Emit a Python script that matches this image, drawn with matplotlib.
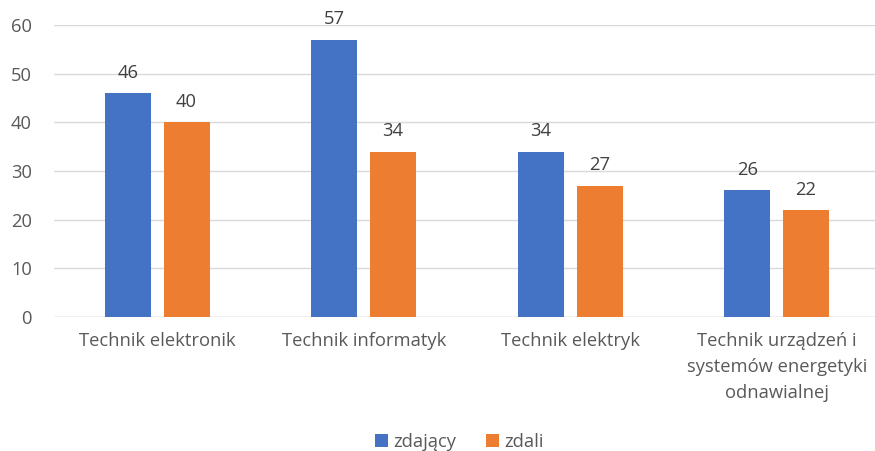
import matplotlib.pyplot as plt
import numpy as np

categories = ['Technik elektronik', 'Technik informatyk', 'Technik elektryk',
              'Technik urządzeń i\nsystemów energetyki\nodnawialnej']
zdajacy = [46, 57, 34, 26]
zdali = [40, 34, 27, 22]

plt.rcParams['font.family'] = ['Open Sans', 'DejaVu Sans']
gray = '#595959'
fs = 13.2

fig = plt.figure(figsize=(8.75, 4.51), dpi=100)
ax = fig.add_axes([54/875, 1-317/451, 1-54/875, 292/451])

x = np.arange(len(categories))
w = 0.223
b1 = ax.bar(x - 0.142, zdajacy, w, color='#4472C4', label='zdający', zorder=3)
b2 = ax.bar(x + 0.142, zdali, w, color='#ED7D31', label='zdali', zorder=3)
for bars in (b1, b2):
    ax.bar_label(bars, padding=8, fontsize=fs, color='#404040')

ax.set_xlim(-0.5, 3.476)
ax.set_ylim(0, 60)
ax.set_yticks(range(0, 61, 10))
ax.yaxis.grid(True, color='#d9d9d9', linewidth=1)
ax.set_axisbelow(True)
for s in ax.spines.values():
    s.set_visible(False)
ax.axhline(0, color='#d9d9d9', linewidth=1, zorder=2)
ax.set_xticks(x)
ax.set_xticklabels(categories, fontsize=fs, color=gray, linespacing=1.55)
ax.tick_params(axis='both', length=0, colors=gray, labelsize=fs)
ax.tick_params(axis='x', pad=11)
ax.tick_params(axis='y', pad=16)

fig.legend(loc='lower center', bbox_to_anchor=(0.525, -0.037), ncol=2, frameon=False,
           fontsize=fs, labelcolor=gray, handlelength=0.7, handleheight=0.7,
           columnspacing=1.6, handletextpad=0.3)

fig.savefig('out.png', dpi=100)
